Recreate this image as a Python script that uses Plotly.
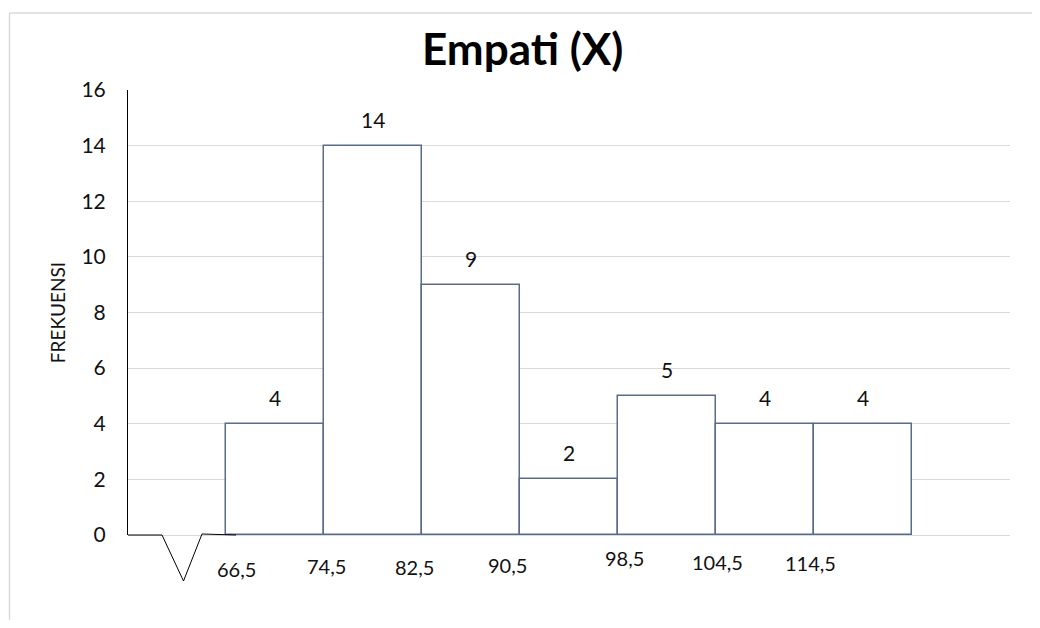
import numpy as np
import plotly.graph_objects as go

# ---- data ----
tick_labels = ["66,5", "74,5", "82,5", "90,5", "98,5", "104,5", "114,5"]
frequencies = [4, 14, 9, 2, 5, 4, 4]
title_text = "Empati (X)"
y_title = "FREKUENSI"

# ---- layout constants (positions/styles) ----
OFF = 8  # page body margin compensation
W, H = 1040 - 2 * OFF, 628 - 2 * OFF
PL, PR, PT, PB = 128, 1010, 90, 535  # plot area in screen pixels
ML, MT = PL - OFF, PT - OFF
MR, MB = W - (PR - OFF), H - (PB - OFF)
PW, PH = PR - PL, PB - PT
FONT = "Lato, Carlito, Calibri, sans-serif"
EDGE = "#5b6c88"
GRID = "#d9d9d9"

bar_x = np.arange(len(frequencies)) + 1.5
# tick label offsets (data-x, screen pixel-y center)
label_x = [1.11, 2.03, 2.92, 3.87, 5.07, 6.02, 6.96]
label_py = [569, 566, 567, 565, 558, 562, 563]


def px_to_paper_x(px):
    return (px - PL) / PW


def py_to_paper_y(py):
    return (PB - py) / PH


fig = go.Figure()
fig.add_trace(go.Bar(
    x=bar_x, y=frequencies, width=1.0,
    marker=dict(color="white", line=dict(color=EDGE, width=1.5)),
    hoverinfo="skip", showlegend=False,
))

annotations = []
for xv, yv in zip(bar_x, frequencies):
    annotations.append(dict(
        x=xv, y=yv, xref="x", yref="y", text=str(yv), showarrow=False,
        yanchor="bottom", yshift=12,
        font=dict(family=FONT, size=21, color="#111111"),
    ))
for lab, lx, lpy in zip(tick_labels, label_x, label_py):
    annotations.append(dict(
        x=lx, y=py_to_paper_y(lpy), xref="x", yref="paper", text=lab,
        showarrow=False, xanchor="center", yanchor="middle",
        font=dict(family=FONT, size=20, color="#111111"),
    ))
# title
annotations.append(dict(
    x=px_to_paper_x(522), y=py_to_paper_y(48), xref="paper", yref="paper",
    text="<b>" + title_text + "</b>", showarrow=False,
    xanchor="center", yanchor="middle",
    font=dict(family=FONT, size=44, color="#000000"),
))

shapes = [
    # outer chart border (light gray): only top and left edges are visible
    dict(type="line", xref="paper", yref="paper",
         x0=px_to_paper_x(9.5), x1=px_to_paper_x(1040 - OFF + 2),
         y0=py_to_paper_y(13), y1=py_to_paper_y(13),
         line=dict(color=GRID, width=1.5), layer="below"),
    dict(type="line", xref="paper", yref="paper",
         x0=px_to_paper_x(9.5), x1=px_to_paper_x(9.5),
         y0=py_to_paper_y(13), y1=py_to_paper_y(628 - OFF + 2),
         line=dict(color=GRID, width=1.5), layer="below"),
    # axis-break zigzag
    dict(type="path", xref="paper", yref="paper",
         path="M {} {} L {} {} L {} {} L {} {} L {} {}".format(
             px_to_paper_x(128), py_to_paper_y(535),
             px_to_paper_x(162), py_to_paper_y(535),
             px_to_paper_x(183.5), py_to_paper_y(581),
             px_to_paper_x(202), py_to_paper_y(534),
             px_to_paper_x(236), py_to_paper_y(535)),
         line=dict(color="#000000", width=1)),
]

fig.update_layout(
    width=W, height=H,
    margin=dict(l=ML, r=MR, t=MT, b=MB, pad=0),
    paper_bgcolor="white", plot_bgcolor="white",
    bargap=0,
    annotations=annotations,
    shapes=shapes,
    xaxis=dict(range=[0, 9], showgrid=False, zeroline=False, showline=False,
               showticklabels=False, ticks="", fixedrange=True),
    yaxis=dict(range=[0, 16], dtick=2, showgrid=True, gridcolor=GRID, gridwidth=1,
               zeroline=True, zerolinecolor=GRID, zerolinewidth=1,
               showline=True, linecolor="#000000", linewidth=1,
               ticks="", ticklabelstandoff=17,
               tickfont=dict(family=FONT, size=21, color="#111111"),
               title=dict(text=y_title, font=dict(family=FONT, size=19, color="#111111"),
                          standoff=10)),
    font=dict(family=FONT),
)

fig.write_html("out.html")
